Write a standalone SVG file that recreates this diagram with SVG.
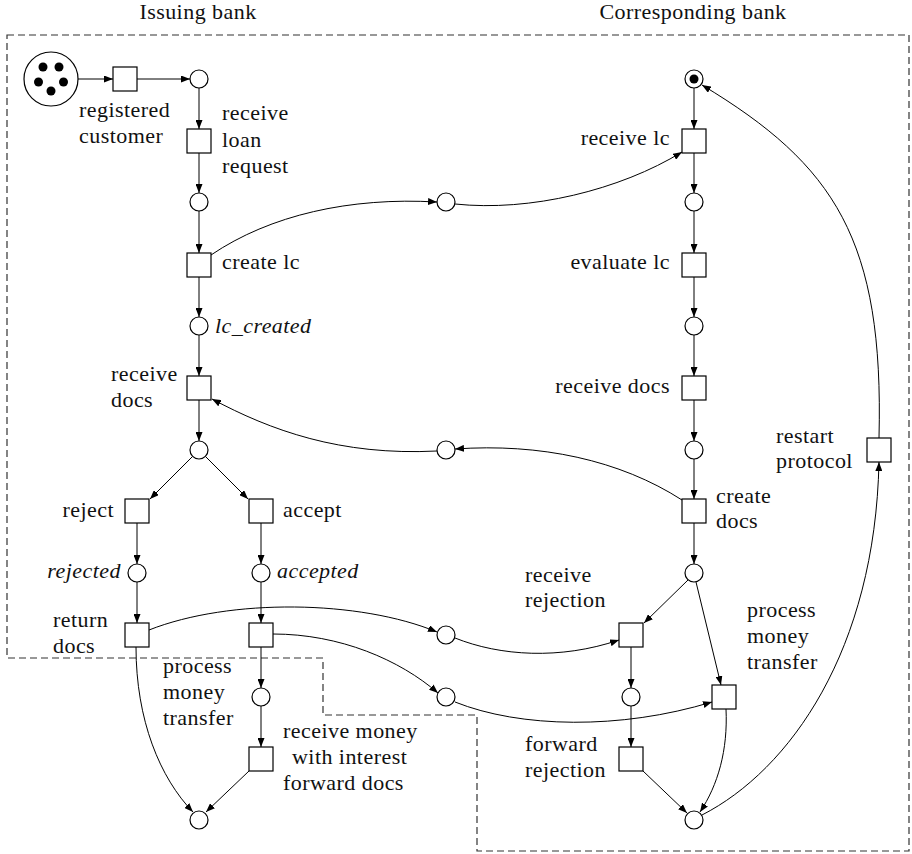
<svg xmlns="http://www.w3.org/2000/svg" width="912" height="854" viewBox="0 0 912 854" font-family="'Liberation Serif', 'Times New Roman', serif">
  <defs>
    <marker id="arrow" viewBox="0 0 9 7" refX="9" refY="3.5" markerWidth="9" markerHeight="7" markerUnits="userSpaceOnUse" orient="auto">
      <path d="M0,0 L9,3.5 L0,7 z" fill="#000"/>
    </marker>
  </defs>
  <style>
    .place { fill: #fff; stroke: #000; stroke-width: 1.2; }
    .trans { fill: #fff; stroke: #000; stroke-width: 1.2; }
    .token { fill: #000; }
    .arc { fill: none; stroke: #000; stroke-width: 1; marker-end: url(#arrow); }
    .zone { fill: none; stroke: #333; stroke-width: 1.2; stroke-dasharray: 7 4; }
    .lbl { font-family: 'Liberation Serif', 'Times New Roman', serif; font-size: 22px; letter-spacing: 0.45px; fill: #111; }
    .it { font-style: italic; }
    .end { text-anchor: end; }
    .mid { text-anchor: middle; }
  </style>

  <rect width="912" height="854" fill="#fff"/>

  <!-- organisation boundary -->
  <path class="zone" d="M7,35 H909 V851 H477 V715 H323 V658 H7 Z"/>
  <g class="lbl">
    <text class="mid" x="198" y="19">Issuing bank</text>
    <text class="mid" x="693" y="19">Corresponding bank</text>
  </g>

  <!-- arcs -->
  <g id="connectors">
    <path class="arc" d="M78,79 H113"/>
    <path class="arc" d="M137,79 H190"/>
    <path class="arc" d="M199,88 V129"/>
    <path class="arc" d="M199,153 V193"/>
    <path class="arc" d="M199,211 V253"/>
    <path class="arc" d="M199,277 V317"/>
    <path class="arc" d="M199,335 V376"/>
    <path class="arc" d="M199,400 V441"/>
    <path class="arc" d="M192,457 L150,499"/>
    <path class="arc" d="M206,457 L248,499"/>
    <path class="arc" d="M137,523 V564"/>
    <path class="arc" d="M261,523 V564"/>
    <path class="arc" d="M137,582 V623"/>
    <path class="arc" d="M261,582 V623"/>
    <path class="arc" d="M261,647 V688"/>
    <path class="arc" d="M261,706 V747"/>
    <path class="arc" d="M136,647 C136,720 160,778 193,812"/>
    <path class="arc" d="M249,771 L206,812"/>

    <path class="arc" d="M211,255 C270,215 350,197 437,202"/>
    <path class="arc" d="M455,204 C530,212 620,190 682,152"/>
    <path class="arc" d="M682,500 C620,460 540,443 455,449"/>
    <path class="arc" d="M437,451 C340,456 270,430 212,399"/>
    <path class="arc" d="M149,630 C230,598 360,600 437,632"/>
    <path class="arc" d="M455,638 C500,656 560,660 619,640"/>
    <path class="arc" d="M273,634 C340,634 400,660 438,693"/>
    <path class="arc" d="M455,702 C520,728 620,730 712,702"/>

    <path class="arc" d="M694,88 V129"/>
    <path class="arc" d="M694,153 V193"/>
    <path class="arc" d="M694,211 V253"/>
    <path class="arc" d="M694,277 V317"/>
    <path class="arc" d="M694,335 V376"/>
    <path class="arc" d="M694,400 V441"/>
    <path class="arc" d="M694,459 V499"/>
    <path class="arc" d="M694,523 V564"/>
    <path class="arc" d="M688,580 L644,623"/>
    <path class="arc" d="M696,582 L721,685"/>
    <path class="arc" d="M631,647 V688"/>
    <path class="arc" d="M631,706 V747"/>
    <path class="arc" d="M643,771 L687,813"/>
    <path class="arc" d="M726,709 C728,750 718,785 700,812"/>
    <path class="arc" d="M702,815 C790,770 875,650 879,462"/>
    <path class="arc" d="M879,438 C884,240 835,165 702,85"/>
  </g>

  <!-- issuing bank -->
  <g id="p-customers">
    <circle class="place" cx="51" cy="79" r="27"/>
    <circle class="token" cx="43" cy="67" r="4.5"/>
    <circle class="token" cx="59" cy="67" r="4.5"/>
    <circle class="token" cx="38.5" cy="82" r="4.5"/>
    <circle class="token" cx="63.5" cy="82" r="4.5"/>
    <circle class="token" cx="51" cy="91" r="4.5"/>
  </g>
  <g id="t-registered-customer" class="lbl">
    <rect class="trans" x="113" y="67" width="24" height="24"/>
    <text x="79" y="117">registered</text>
    <text x="79" y="143">customer</text>
  </g>
  <g id="p-i1"><circle class="place" cx="199" cy="79" r="9"/></g>
  <g id="t-receive-loan-request" class="lbl">
    <rect class="trans" x="187" y="129" width="24" height="24"/>
    <text x="222" y="120">receive</text>
    <text x="222" y="146.5">loan</text>
    <text x="222" y="173">request</text>
  </g>
  <g id="p-i2"><circle class="place" cx="199" cy="202" r="9"/></g>
  <g id="t-create-lc" class="lbl">
    <rect class="trans" x="187" y="253" width="24" height="24"/>
    <text x="222" y="269">create lc</text>
  </g>
  <g id="p-lc-created" class="lbl">
    <circle class="place" cx="199" cy="326" r="9"/>
    <text class="it" x="215" y="333">lc_created</text>
  </g>
  <g id="t-receive-docs-i" class="lbl">
    <rect class="trans" x="187" y="376" width="24" height="24"/>
    <text x="111" y="381">receive</text>
    <text x="111" y="407">docs</text>
  </g>
  <g id="p-i3"><circle class="place" cx="199" cy="450" r="9"/></g>
  <g id="t-reject" class="lbl">
    <rect class="trans" x="125" y="499" width="24" height="24"/>
    <text class="end" x="114" y="517">reject</text>
  </g>
  <g id="t-accept" class="lbl">
    <rect class="trans" x="249" y="499" width="24" height="24"/>
    <text x="283" y="517">accept</text>
  </g>
  <g id="p-rejected" class="lbl">
    <circle class="place" cx="137" cy="573" r="9"/>
    <text class="it end" x="121" y="578">rejected</text>
  </g>
  <g id="p-accepted" class="lbl">
    <circle class="place" cx="261" cy="573" r="9"/>
    <text class="it" x="277" y="578">accepted</text>
  </g>
  <g id="t-return-docs" class="lbl">
    <rect class="trans" x="125" y="623" width="24" height="24"/>
    <text x="53" y="627">return</text>
    <text x="53" y="653">docs</text>
  </g>
  <g id="t-process-money-transfer-i" class="lbl">
    <rect class="trans" x="249" y="623" width="24" height="24"/>
    <text x="163" y="673">process</text>
    <text x="163" y="699">money</text>
    <text x="163" y="725">transfer</text>
  </g>
  <g id="p-i4"><circle class="place" cx="261" cy="697" r="9"/></g>
  <g id="t-receive-money" class="lbl">
    <rect class="trans" x="249" y="747" width="24" height="24"/>
    <text x="283" y="738">receive money</text>
    <text x="292" y="764">with interest</text>
    <text x="283" y="790">forward docs</text>
  </g>
  <g id="p-i-end"><circle class="place" cx="199" cy="820" r="9"/></g>

  <!-- message places -->
  <g id="p-m-lc"><circle class="place" cx="446" cy="202" r="9"/></g>
  <g id="p-m-docs"><circle class="place" cx="446" cy="450" r="9"/></g>
  <g id="p-m-rejection"><circle class="place" cx="446" cy="635" r="9"/></g>
  <g id="p-m-money"><circle class="place" cx="446" cy="697" r="9"/></g>

  <!-- corresponding bank -->
  <g id="p-c-start">
    <circle class="place" cx="694" cy="79" r="9"/>
    <circle class="token" cx="694" cy="79" r="4.5"/>
  </g>
  <g id="t-receive-lc" class="lbl">
    <rect class="trans" x="682" y="129" width="24" height="24"/>
    <text class="end" x="670" y="145">receive lc</text>
  </g>
  <g id="p-c1"><circle class="place" cx="694" cy="202" r="9"/></g>
  <g id="t-evaluate-lc" class="lbl">
    <rect class="trans" x="682" y="253" width="24" height="24"/>
    <text class="end" x="670" y="269">evaluate lc</text>
  </g>
  <g id="p-c2"><circle class="place" cx="694" cy="326" r="9"/></g>
  <g id="t-receive-docs-c" class="lbl">
    <rect class="trans" x="682" y="376" width="24" height="24"/>
    <text class="end" x="670" y="393">receive docs</text>
  </g>
  <g id="p-c3"><circle class="place" cx="694" cy="450" r="9"/></g>
  <g id="t-create-docs" class="lbl">
    <rect class="trans" x="682" y="499" width="24" height="24"/>
    <text x="716" y="503">create</text>
    <text x="716" y="528">docs</text>
  </g>
  <g id="p-c4"><circle class="place" cx="694" cy="573" r="9"/></g>
  <g id="t-receive-rejection" class="lbl">
    <rect class="trans" x="619" y="623" width="24" height="24"/>
    <text x="525" y="582">receive</text>
    <text x="525" y="607">rejection</text>
  </g>
  <g id="p-c5"><circle class="place" cx="631" cy="697" r="9"/></g>
  <g id="t-forward-rejection" class="lbl">
    <rect class="trans" x="619" y="747" width="24" height="24"/>
    <text x="525" y="751">forward</text>
    <text x="525" y="777">rejection</text>
  </g>
  <g id="t-process-money-transfer-c" class="lbl">
    <rect class="trans" x="712" y="685" width="24" height="24"/>
    <text x="747" y="617">process</text>
    <text x="747" y="643">money</text>
    <text x="747" y="669">transfer</text>
  </g>
  <g id="p-c-end"><circle class="place" cx="694" cy="820" r="9"/></g>
  <g id="t-restart-protocol" class="lbl">
    <rect class="trans" x="867" y="438" width="24" height="24"/>
    <text x="776" y="443">restart</text>
    <text x="776" y="468">protocol</text>
  </g>
</svg>
